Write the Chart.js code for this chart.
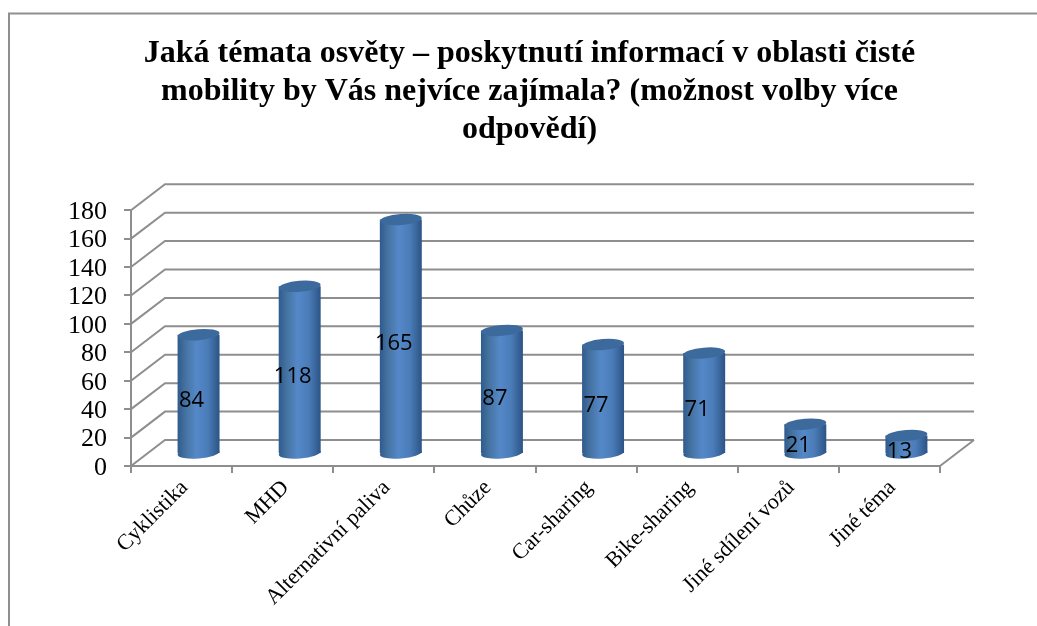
<!DOCTYPE html>
<html lang="cs">
<head>
<meta charset="utf-8">
<style>
html,body{margin:0;padding:0;background:#fff;overflow:hidden}
#wrap{position:absolute;left:0;top:0;width:1037px;height:626px}
</style>
<script src="https://cdn.jsdelivr.net/npm/chart.js@4"></script>
</head>
<body>
<div id="wrap"><canvas id="c" width="1037" height="626"></canvas></div>
<script>
const titleLines = ["Jaká témata osvěty – poskytnutí informací v oblasti čisté","mobility by Vás nejvíce zajímala? (možnost volby více","odpovědí)"];
const categories = ["Cyklistika","MHD","Alternativní paliva","Chůze","Car-sharing","Bike-sharing","Jiné sdílení vozů","Jiné téma"];
const values = [84,118,165,87,77,71,21,13];
const yMin = 0, yMax = 180, yStep = 20;

const GREY = '#8e8e8e';
const DX = 34, DY = 26;          // depth of the 3D box
const BX = 17, BY = 12;          // where the cylinders stand in that depth
const BAR_FRACTION = 0.415;

function barGradient(ctx, x, w){
  const g = ctx.createLinearGradient(x - w/2, 0, x + w/2, 0);
  g.addColorStop(0, '#2f5a8e');
  g.addColorStop(0.18, '#44729f');
  g.addColorStop(0.45, '#5588c8');
  g.addColorStop(0.72, '#4a7cb8');
  g.addColorStop(1, '#2c5485');
  return g;
}

const scene3d = {
  id: 'scene3d',
  beforeDraw(chart){
    const c = chart.ctx;
    c.save();
    c.strokeStyle = '#8f8f8f';
    c.lineWidth = 2;
    c.beginPath();
    c.moveTo(9, 626); c.lineTo(9, 13.5); c.lineTo(1037, 13.5);
    c.stroke();
    c.restore();
  },
  beforeDatasetsDraw(chart){
    const c = chart.ctx, y = chart.scales.y, a = chart.chartArea;
    c.save();
    c.strokeStyle = GREY;
    c.lineWidth = 2;
    y.ticks.forEach(t => {
      const py = y.getPixelForValue(t.value);
      c.beginPath();
      c.moveTo(a.left, py);
      c.lineTo(a.left + DX, py - DY);
      c.lineTo(a.right + DX, py - DY);
      c.stroke();
    });
    // floor edge at the right
    c.beginPath();
    c.moveTo(a.right, a.bottom);
    c.lineTo(a.right + DX, a.bottom - DY);
    c.stroke();
    c.restore();
  },
  beforeDatasetDraw(chart){
    const c = chart.ctx;
    c.save();
    c.translate(BX, BY * -1);
    const meta = chart.getDatasetMeta(0);
    meta.data.forEach(b => {
      const w = b.width;
      c.save();
      c.fillStyle = barGradient(c, b.x, w);
      c.beginPath();
      c.ellipse(b.x, b.base, w/2, 5.5, -0.08, 0, Math.PI*2);
      c.fill();
      c.restore();
    });
  },
  afterDatasetDraw(chart){
    const c = chart.ctx;
    const meta = chart.getDatasetMeta(0);
    meta.data.forEach(b => {
      c.save();
      c.fillStyle = '#3d6a9d';
      c.beginPath();
      c.ellipse(b.x, b.y, b.width/2, 5.5, -0.08, 0, Math.PI*2);
      c.fill();
      c.restore();
    });
    c.restore();
  },
  afterDatasetsDraw(chart){
    const c = chart.ctx;
    const meta = chart.getDatasetMeta(0);
    c.save();
    c.fillStyle = '#000';
    c.font = '22px "Open Sans"';
    c.textAlign = 'center';
    c.textBaseline = 'middle';
    meta.data.forEach((b, i) => {
      c.fillText(String(values[i]), b.x + BX - 7, (b.y + b.base)/2 - BY + 7);
    });
    c.restore();
  }
};

new Chart(document.getElementById('c'), {
  type: 'bar',
  plugins: [scene3d],
  data: {
    labels: categories,
    datasets: [{
      data: values,
      clip: false,
      borderWidth: 0,
      barPercentage: BAR_FRACTION,
      categoryPercentage: 1,
      backgroundColor(ctx){
        const chart = ctx.chart;
        if (!chart.chartArea) return '#4a7cb8';
        const x = chart.scales.x.getPixelForValue(ctx.dataIndex);
        const w = (chart.chartArea.width / categories.length) * BAR_FRACTION;
        return barGradient(chart.ctx, x, w);
      }
    }]
  },
  options: {
    responsive: false,
    animation: false,
    layout: { padding: { left: 22, right: 0, top: 35, bottom: 0 } },
    plugins: {
      legend: { display: false },
      tooltip: { enabled: false },
      title: {
        display: true,
        text: titleLines,
        color: '#000',
        font: { family: '"Liberation Serif"', size: 32, weight: 'bold', lineHeight: 1.19 },
        padding: { top: 0, bottom: 61 }
      }
    },
    scales: {
      x: {
        grid: { drawOnChartArea: false, color: GREY, lineWidth: 2, tickLength: 7, offset: true },
        border: { color: GREY, width: 2 },
        ticks: {
          color: '#000', autoSkip: false, minRotation: 45, maxRotation: 45, labelOffset: 3,
          font: { family: '"Liberation Serif"', size: 22 }, padding: 2
        },
        afterFit(s){ s.height = 160; }
      },
      y: {
        min: yMin, max: yMax,
        grid: { drawOnChartArea: false, color: GREY, lineWidth: 2, tickLength: 7 },
        border: { color: GREY, width: 2 },
        ticks: {
          stepSize: yStep, color: '#000', padding: 17, autoSkip: false, labelOffset: 2,
          font: { family: '"Liberation Serif"', size: 26 }
        },
        afterFit(s){ s.width = 109; }
      },
      rightGap: {
        position: 'right', display: true,
        grid: { display: false }, border: { display: false }, ticks: { display: false },
        afterFit(s){ s.width = 97; }
      }
    }
  }
});
</script>
</body>
</html>
